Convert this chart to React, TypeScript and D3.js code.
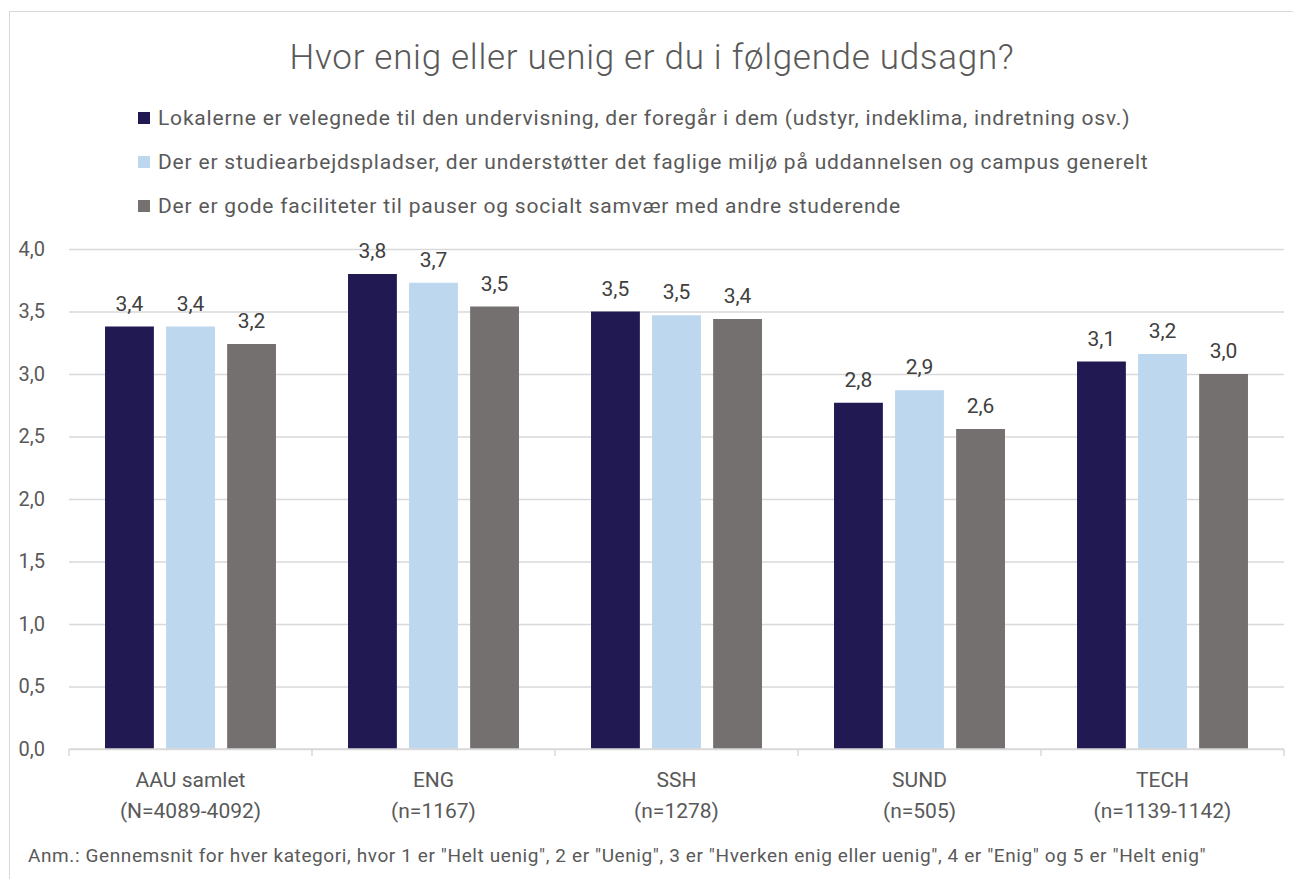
import { useEffect, useRef } from "react";
import * as d3 from "d3";

// data
const categories = ["AAU samlet", "ENG", "SSH", "SUND", "TECH"];
const categoryNotes = ["(N=4089-4092)", "(n=1167)", "(n=1278)", "(n=505)", "(n=1139-1142)"];
const seriesNames = [
  "Lokalerne er velegnede til den undervisning, der foregår i dem (udstyr, indeklima, indretning osv.)",
  "Der er studiearbejdspladser, der understøtter det faglige miljø på uddannelsen og campus generelt",
  "Der er gode faciliteter til pauser og socialt samvær med andre studerende",
];
const lokalerne = [3.38, 3.8, 3.5, 2.77, 3.1];
const studiearbejdspladser = [3.38, 3.73, 3.47, 2.87, 3.16];
const faciliteter = [3.24, 3.54, 3.44, 2.56, 3.0];
const yTicks = [0, 0.5, 1, 1.5, 2, 2.5, 3, 3.5, 4];

const colors = ["#211a52", "#bdd7ee", "#757070"];
const textColor = "#595959";
const gridColor = "#d9d9d9";
const fontMain = "Roboto, 'DejaVu Sans', sans-serif";

const App = () => {
  const svgRef = useRef<SVGSVGElement>(null);

  useEffect(() => {
    const svg = d3.select(svgRef.current);
    svg.selectAll("*").remove();

    const series = [lokalerne, studiearbejdspladser, faciliteter];
    const fmt = (v: number) => d3.format(".1f")(v).replace(".", ",");

    const left = 69, right = 1284, top = 249, bottom = 749;

    const x0 = d3.scaleBand().domain(categories).range([left, right]);
    const x1 = d3
      .scaleBand()
      .domain(d3.range(series.length).map(String))
      .range([0, x0.bandwidth()])
      .paddingInner(0.2)
      .paddingOuter(0.59);
    const y = d3.scaleLinear().domain([0, 4]).range([bottom, top]);

    // ramme om diagrammet
    svg.append("rect")
      .attr("x", 9.5).attr("y", 11.5)
      .attr("width", 1290).attr("height", 900)
      .attr("fill", "white")
      .attr("stroke", gridColor);

    // titel
    svg.append("text")
      .attr("x", 652).attr("y", 69)
      .attr("text-anchor", "middle")
      .attr("font-family", fontMain)
      .attr("font-size", 35)
      .attr("font-weight", 300)
      .attr("letter-spacing", 0.7)
      .attr("fill", textColor)
      .text("Hvor enig eller uenig er du i følgende udsagn?");

    // legend
    const legend = svg.append("g");
    seriesNames.forEach((name, i) => {
      const ly = 118 + i * 44;
      legend.append("rect")
        .attr("x", 138).attr("y", ly - 6)
        .attr("width", 12).attr("height", 12)
        .attr("fill", colors[i]);
      legend.append("text")
        .attr("x", 158).attr("y", ly)
        .attr("dy", "0.35em")
        .attr("font-family", fontMain)
        .attr("font-size", 21)
        .attr("letter-spacing", 0.8)
        .attr("fill", textColor)
        .text(name);
    });

    // gitterlinjer + y-etiketter
    const yAxis = d3.axisLeft(y).tickValues(yTicks).tickSize(-(right - left)).tickPadding(24).tickFormat(d => fmt(+d));
    const gy = svg.append("g").attr("transform", `translate(${left},0)`).call(yAxis);
    gy.select(".domain").remove();
    gy.selectAll(".tick line").attr("stroke", gridColor).attr("stroke-width", 1.5);
    gy.selectAll(".tick text")
      .attr("font-family", fontMain)
      .attr("font-size", 20)
      .attr("fill", textColor);

    // søjler
    categories.forEach((cat, ci) => {
      const g = svg.append("g").attr("transform", `translate(${x0(cat)},0)`);
      series.forEach((vals, si) => {
        const bx = x1(String(si))!;
        g.append("rect")
          .attr("x", bx).attr("y", y(vals[ci]))
          .attr("width", x1.bandwidth())
          .attr("height", bottom - y(vals[ci]))
          .attr("fill", colors[si]);
        g.append("text")
          .attr("x", bx + x1.bandwidth() / 2)
          .attr("y", y(vals[ci]) - 16)
          .attr("text-anchor", "middle")
          .attr("font-family", fontMain)
          .attr("font-size", 21)
          .attr("fill", "#404040")
          .text(fmt(vals[ci]));
      });
    });

    // x-akse
    const gx = svg.append("g");
    gx.append("line")
      .attr("x1", left).attr("x2", right)
      .attr("y1", bottom).attr("y2", bottom)
      .attr("stroke", gridColor).attr("stroke-width", 1.5);
    const bounds = categories.map(c => x0(c)!).concat([right]);
    gx.selectAll(".sep")
      .data(bounds)
      .join("line")
      .attr("x1", d => d).attr("x2", d => d)
      .attr("y1", bottom).attr("y2", bottom + 7)
      .attr("stroke", gridColor).attr("stroke-width", 1.5);
    categories.forEach((cat, ci) => {
      const cx = x0(cat)! + x0.bandwidth() / 2;
      const t = gx.append("text")
        .attr("text-anchor", "middle")
        .attr("font-family", fontMain)
        .attr("font-size", 21)
        .attr("fill", textColor);
      t.append("tspan").attr("x", cx).attr("y", 787).text(cat);
      t.append("tspan").attr("x", cx).attr("y", 818).text(categoryNotes[ci]);
    });

    // fodnote
    svg.append("text")
      .attr("x", 28).attr("y", 862)
      .attr("font-family", fontMain)
      .attr("font-size", 19)
      .attr("letter-spacing", 0.6)
      .attr("fill", textColor)
      .text("Anm.: Gennemsnit for hver kategori, hvor 1 er \"Helt uenig\", 2 er \"Uenig\", 3 er \"Hverken enig eller uenig\", 4 er \"Enig\" og 5 er \"Helt enig\"");
  }, []);

  return (
    <svg
      ref={svgRef}
      width={1293}
      height={879}
      style={{ position: "absolute", left: 0, top: 0, background: "white" }}
    />
  );
};

export default App;
